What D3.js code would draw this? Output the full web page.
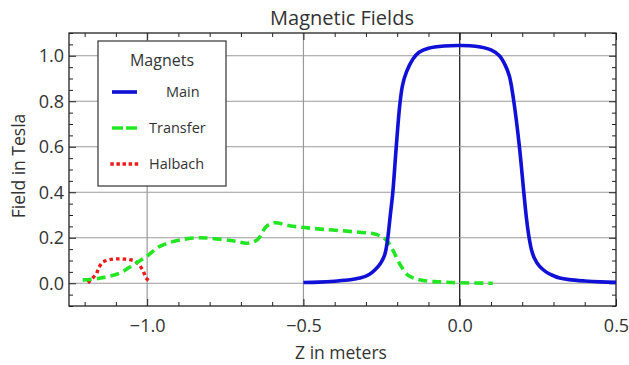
<!DOCTYPE html>
<html lang="en">
<head>
<meta charset="UTF-8">
<title>Magnetic Fields</title>
<script src="https://cdn.jsdelivr.net/npm/d3@7"></script>
<style>
  body { margin: 0; background: #fff; }
  text { font-family: "Open Sans", "DejaVu Sans", sans-serif; fill: #333; }
</style>
</head>
<body>
<div id="chart"></div>
<script>
// data: [z in m, field in T]
const mainField = [
  [-0.50, 0.003], [-0.45, 0.005], [-0.40, 0.009], [-0.35, 0.015], [-0.32, 0.023],
  [-0.30, 0.031], [-0.28, 0.048], [-0.26, 0.075], [-0.25, 0.095], [-0.24, 0.125],
  [-0.235, 0.155], [-0.23, 0.20], [-0.222, 0.30], [-0.214, 0.40], [-0.203, 0.60],
  [-0.192, 0.78], [-0.183, 0.87], [-0.17, 0.93], [-0.15, 0.985], [-0.13, 1.015],
  [-0.10, 1.033], [-0.05, 1.043], [0.00, 1.045], [0.05, 1.042], [0.10, 1.026],
  [0.127, 1.0], [0.145, 0.96], [0.159, 0.91], [0.173, 0.80], [0.191, 0.60],
  [0.205, 0.40], [0.214, 0.28], [0.222, 0.20], [0.23, 0.145], [0.239, 0.11],
  [0.255, 0.075], [0.276, 0.05], [0.30, 0.033], [0.32, 0.023], [0.35, 0.016],
  [0.40, 0.010], [0.45, 0.006], [0.50, 0.004]
];
const transferField = [
  [-1.206, 0.015], [-1.153, 0.022], [-1.089, 0.044], [-1.046, 0.080], [-1.003, 0.117],
  [-0.961, 0.161], [-0.918, 0.183], [-0.875, 0.195], [-0.838, 0.200], [-0.80, 0.198],
  [-0.726, 0.187], [-0.678, 0.176], [-0.646, 0.193], [-0.619, 0.249], [-0.593, 0.266],
  [-0.545, 0.253], [-0.497, 0.245], [-0.454, 0.239], [-0.406, 0.234], [-0.321, 0.224],
  [-0.267, 0.215], [-0.235, 0.190], [-0.214, 0.146], [-0.193, 0.088], [-0.166, 0.036],
  [-0.129, 0.015], [-0.065, 0.006], [0.00, 0.002], [0.106, 0.0]
];
const halbachField = [
  [-1.186, 0.007], [-1.163, 0.041], [-1.153, 0.073], [-1.139, 0.095], [-1.115, 0.105],
  [-1.091, 0.107], [-1.065, 0.105], [-1.041, 0.098], [-1.023, 0.076], [-1.012, 0.051],
  [-1.001, 0.019], [-0.982, 0.003]
];

const seriesNames = ["Main", "Transfer", "Halbach"];
const xLabels = [-1.0, -0.5, 0.0, 0.5];
const yLabels = [0.0, 0.2, 0.4, 0.6, 0.8, 1.0];

const W = 629, H = 365;
const margin = { top: 33, right: 13, bottom: 59, left: 69 };
const width = W - margin.left - margin.right;
const height = H - margin.top - margin.bottom;

const svg = d3.select("#chart").append("svg")
  .attr("width", W).attr("height", H);

const g = svg.append("g")
  .attr("transform", `translate(${margin.left},${margin.top})`);

const x = d3.scaleLinear().domain([-1.25, 0.5]).range([0, width]);
const y = d3.scaleLinear().domain([-0.1, 1.1]).range([height, 0]);

// grid
g.selectAll(".vgrid").data(xLabels.filter(d => d < 0.5))
  .enter().append("line")
  .attr("x1", d => x(d)).attr("x2", d => x(d))
  .attr("y1", 0).attr("y2", height)
  .attr("stroke", d => d === 0 ? "#111" : "#9a9a9a")
  .attr("stroke-width", 1.2);

g.selectAll(".hgrid").data(yLabels)
  .enter().append("line")
  .attr("x1", 0).attr("x2", width)
  .attr("y1", d => y(d)).attr("y2", d => y(d))
  .attr("stroke", "#9a9a9a")
  .attr("stroke-width", 1.2);

// ticks on all four sides (frame style)
const xTicks = d3.range(-12, 6).map(i => i / 10);
const yTicks = d3.range(-2, 23).map(i => i / 20);
const isMajorX = v => Math.abs(v * 2 - Math.round(v * 2)) < 1e-6;
const isMajorY = v => Math.abs(v * 5 - Math.round(v * 5)) < 1e-6;

g.append("g").attr("transform", `translate(0,${height})`)
  .call(d3.axisBottom(x).tickValues(xTicks).tickSizeInner(-4).tickSizeOuter(0)
    .tickFormat(d => isMajorX(d) ? d3.format(".1f")(d).replace("-", "\u2212") : ""))
  .call(a => a.selectAll(".tick line").attr("y2", d => isMajorX(d) ? -7 : -4))
  .call(a => a.selectAll("text").attr("dy", "1.3em").style("font-size", "18px"));

g.append("g")
  .call(d3.axisTop(x).tickValues(xTicks).tickSizeInner(-4).tickSizeOuter(0).tickFormat(""))
  .call(a => a.selectAll(".tick line").attr("y2", d => isMajorX(d) ? 7 : 4));

g.append("g")
  .call(d3.axisLeft(y).tickValues(yTicks).tickSizeInner(-4).tickSizeOuter(0)
    .tickFormat(d => isMajorY(d) && d >= 0 ? d3.format(".1f")(d) : ""))
  .call(a => a.selectAll(".tick line").attr("x2", d => isMajorY(d) ? 7 : 4))
  .call(a => a.selectAll("text").attr("x", -5).style("font-size", "18px"));

g.append("g").attr("transform", `translate(${width},0)`)
  .call(d3.axisRight(y).tickValues(yTicks).tickSizeInner(-4).tickSizeOuter(0).tickFormat(""))
  .call(a => a.selectAll(".tick line").attr("x2", d => isMajorY(d) ? -7 : -4));

g.selectAll(".domain").remove();
g.selectAll(".tick line").attr("stroke", "#222");
g.selectAll(".tick text").attr("fill", "#333");

g.append("rect")
  .attr("width", width).attr("height", height)
  .attr("fill", "none").attr("stroke", "#222").attr("stroke-width", 1.3);

// curves
const line = d3.line()
  .x(d => x(d[0])).y(d => y(d[1]))
  .curve(d3.curveCatmullRom.alpha(0.5));

const styles = [
  { data: mainField, color: "#1010d6", dash: null, w: 3.6, cap: "butt" },
  { data: transferField, color: "#22e622", dash: "9,5", w: 3.6, cap: "butt" },
  { data: halbachField, color: "#ee1a1a", dash: "0.1,6.5", w: 3.4, cap: "square" }
];

svg.append("clipPath").attr("id", "clip")
  .append("rect").attr("width", width).attr("height", height);

styles.slice().reverse().forEach(s => {
  g.append("path")
    .datum(s.data)
    .attr("clip-path", "url(#clip)")
    .attr("d", line)
    .attr("fill", "none")
    .attr("stroke", s.color)
    .attr("stroke-width", s.w)
    .attr("stroke-linecap", s.cap)
    .attr("stroke-dasharray", s.dash);
});

// titles
svg.append("text")
  .attr("x", 342).attr("y", 25)
  .attr("text-anchor", "middle")
  .style("font-size", "20px")
  .text("Magnetic Fields");

svg.append("text")
  .attr("x", 341).attr("y", 359)
  .attr("text-anchor", "middle")
  .style("font-size", "17.5px")
  .text("Z in meters");

svg.append("text")
  .attr("transform", "translate(25,166) rotate(-90)")
  .attr("text-anchor", "middle")
  .style("font-size", "17.5px")
  .text("Field in Tesla");

// legend
const legend = svg.append("g").attr("transform", "translate(98,41)");
legend.append("rect")
  .attr("width", 128).attr("height", 145)
  .attr("fill", "#fff").attr("stroke", "#333").attr("stroke-width", 1.2);
legend.append("text")
  .attr("x", 64).attr("y", 25)
  .attr("text-anchor", "middle")
  .style("font-size", "16px")
  .text("Magnets");

const rowY = d3.scaleLinear().domain([0, 2]).range([51, 123]);
seriesNames.forEach((name, i) => {
  const s = styles[i];
  legend.append("line")
    .attr("x1", 14).attr("x2", 39)
    .attr("y1", rowY(i)).attr("y2", rowY(i))
    .attr("stroke", s.color)
    .attr("stroke-width", s.w)
    .attr("stroke-linecap", s.cap)
    .attr("stroke-dasharray", i === 1 ? "11,3" : (i === 2 ? "0.1,6" : null));
  legend.append("text")
    .attr("x", i === 0 ? 68 : 51).attr("y", rowY(i) + 5)
    .style("font-size", "14.5px")
    .text(name);
});
</script>
</body>
</html>
